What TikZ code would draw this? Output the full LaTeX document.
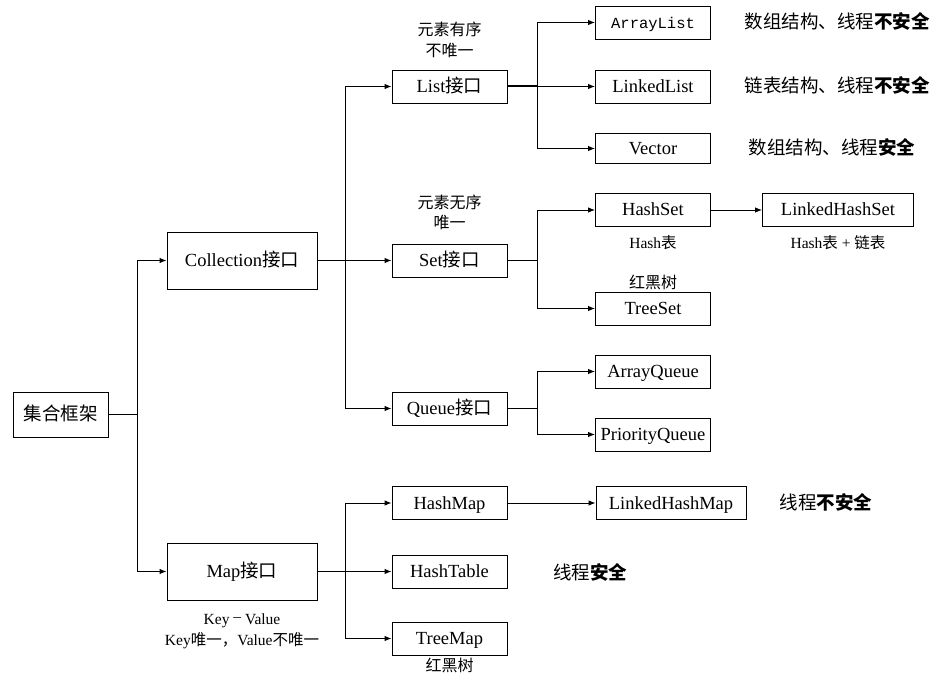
\documentclass[tikz,border=0pt]{standalone}
\usepackage{fontspec}
\setmainfont{Liberation Serif}
\setmonofont{Liberation Mono}
\newfontfamily\cjk{Noto Sans CJK SC}
\usetikzlibrary{arrows.meta}
\begin{document}
\begin{tikzpicture}[x=1pt,y=-1pt,
  box/.style={draw,line width=0.9pt,inner sep=0pt,minimum width=#1,minimum height=33pt,text height=12.5pt,text depth=0.5pt,font=\fontsize{18.5}{20}\selectfont},
  box/.default=115pt,
  arr/.style={-{Latex[length=7pt,width=5.5pt]},line width=0.9pt},
  conn/.style={line width=0.9pt},
  note/.style={inner sep=0pt,text height=12.5pt,text depth=0.5pt,font=\cjk\fontsize{18.5}{20}\selectfont},
  small/.style={inner sep=0pt,text height=11pt,text depth=0.5pt,font=\cjk\fontsize{16}{18}\selectfont},
  smalllat/.style={inner sep=0pt,text height=11pt,text depth=0.5pt,font=\fontsize{15.5}{18}\selectfont}]
\useasboundingbox (0,0) rectangle (945,684);
% boxes
\node[box=95pt,minimum height=45pt] (root) at (60.5,414.5) {\cjk 集合框架};
\node[box=150pt,minimum height=57pt] (coll) at (242,260.5) {Collection{\cjk 接口}};
\node[box=150pt,minimum height=57pt] (map) at (242,571.5) {Map{\cjk 接口}};
\node[box] (list) at (449.5,86.5) {List{\cjk 接口}};
\node[box] (set) at (449.5,260.5) {Set{\cjk 接口}};
\node[box] (queue) at (449.5,408.5) {Queue{\cjk 接口}};
\node[box] (alist) at (653,22.5) {\ttfamily\fontsize{15.5}{18}\selectfont ArrayList};
\node[box] (llist) at (653,86.5) {LinkedList};
\node[box,minimum height=30pt] (vec) at (653,148.5) {Vector};
\node[box] (hset) at (653,210) {HashSet};
\node[box] (tset) at (653,308.5) {TreeSet};
\node[box=151pt] (lhset) at (838,210) {LinkedHashSet};
\node[box] (aq) at (653,371.5) {ArrayQueue};
\node[box] (pq) at (653,434.5) {PriorityQueue};
\node[box] (hmap) at (449.5,503) {HashMap};
\node[box] (htab) at (449.5,571.5) {HashTable};
\node[box] (tmap) at (449.5,638.5) {TreeMap};
\node[box=150pt] (lhmap) at (671,503) {LinkedHashMap};
% notes
\node[note] (n1) at (837,22.5) {数组结构、线程{\bfseries 不安全}};
\node[note] (n2) at (837,86.5) {链表结构、线程{\bfseries 不安全}};
\node[note] (n3) at (832,148.5) {数组结构、线程{\bfseries 安全}};
\node[note] (n4) at (826,503) {线程{\bfseries 不安全}};
\node[note] (n5) at (590,573) {线程{\bfseries 安全}};
\node[small] (s1) at (449.5,30) {元素有序};
\node[small] (s2) at (449.5,51) {不唯一};
\node[small] (s3) at (449.5,203) {元素无序};
\node[small] (s4) at (449.5,223) {唯一};
\node[smalllat] (s5) at (653,243) {Hash{\cjk 表}};
\node[smalllat] (s6) at (838,243) {Hash{\cjk 表} + {\cjk 链表}};
\node[small] (s7) at (653,283) {红黑树};
\node[smalllat] (s8) at (242,619) {Key \raisebox{0.45ex}{–} Value};
\node[smalllat] (s9) at (242,640) {Key{\cjk 唯一，}Value{\cjk 不唯一}};
\node[small] (s10) at (449.5,666) {红黑树};
% bus points
\coordinate (b0) at (137,414.5);
\coordinate (b1) at (345,260.5);
\coordinate (b2) at (537,86.5);
\coordinate (b3) at (537,260.5);
\coordinate (b4) at (537,408.5);
\coordinate (b5) at (345,571.5);
% connectors
\draw[conn] (root.east) -- (b0);
\draw[arr] (b0) |- (coll.west);
\draw[arr] (b0) |- (map.west);
\draw[arr] (coll.east) -- (set.west);
\draw[arr] (b1) |- (list.west);
\draw[arr] (b1) |- (queue.west);
\draw[line width=2pt] (list.east) -- (b2);
\draw[arr] (b2) -- (llist.west);
\draw[arr] (b2) |- (alist.west);
\draw[arr] (b2) |- (vec.west);
\draw[conn] (set.east) -- (b3);
\draw[arr] (b3) |- (hset.west);
\draw[arr] (b3) |- (tset.west);
\draw[arr] (hset.east) -- (lhset.west);
\draw[conn] (queue.east) -- (b4);
\draw[arr] (b4) |- (aq.west);
\draw[arr] (b4) |- (pq.west);
\draw[arr] (map.east) -- (htab.west);
\draw[arr] (b5) |- (hmap.west);
\draw[arr] (b5) |- (tmap.west);
\draw[arr] (hmap.east) -- (lhmap.west);
\end{tikzpicture}
\end{document}
